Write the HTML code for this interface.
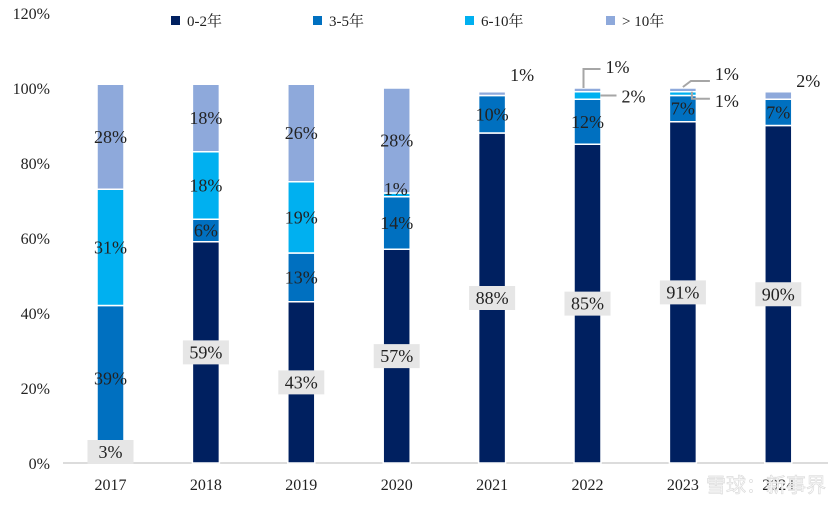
<!DOCTYPE html>
<html><head><meta charset="utf-8"><style>
body{margin:0;background:#fff;}
svg{display:block;font-family:"Liberation Serif","Noto Serif CJK SC",serif;}
</style></head><body>
<svg id="chart" width="830" height="506"></svg>
<script>
const categories=["2017","2018","2019","2020","2021","2022","2023","2024"];
const s02=[3,59,43,57,88,85,91,90];
const s35=[39,6,13,14,10,12,7,7];
const s610=[31,18,19,1,0,2,1,0];
const s10=[28,18,26,28,1,1,1,2];
const seriesNames=["0-2年","3-5年","6-10年","> 10年"];
const colors=["#002060","#0070C0","#00B0F0","#8EA9DB"];
const yTicks=[0,20,40,60,80,100,120];
const NS="http://www.w3.org/2000/svg";
const svg=document.getElementById('chart');
function y(v){return 463-v*3.75;}
function x(i){return 110.5+i*95.4;}
function el(t,a,p){const e=document.createElementNS(NS,t);for(const k in a)e.setAttribute(k,a[k]);(p||svg).appendChild(e);return e;}
yTicks.forEach(t=>{const tx=el('text',{x:50,y:y(t)+6,'text-anchor':'end','font-size':16,fill:'#222'});tx.textContent=t+'%';

});
const ax=el('line',{x1:63,x2:828,y1:463,y2:463,stroke:'#d0d0d0','stroke-width':1.5});


const lx=[171,313,465,606];
seriesNames.forEach((n,i)=>{const r=el('rect',{x:lx[i],y:16,width:9,height:9,fill:colors[i]});


const t=el('text',{x:lx[i]+16,y:26,'font-size':15,fill:'#222'});t.textContent=n;

});
const series=[s02,s35,s610,s10];
const bw=27;
categories.forEach((c,i)=>{
  let acc=0;
  series.forEach((s,k)=>{
    const v=s[i];if(v<=0)return;
    const r=el('rect',{x:x(i)-bw/2,y:y(acc+v),width:bw,height:v*3.75,fill:colors[k],stroke:'#fff','stroke-width':1.5});
    
    
    acc+=v;
  });
  const t=el('text',{x:x(i),y:490,'text-anchor':'middle','font-size':16,fill:'#222'});t.textContent=c;
  
  
});
function label(txt,cx,cy,box){
  if(box){const b=el('rect',{x:cx-23,y:cy-12,width:46,height:24,fill:'#e6e6e6'});
  
  }
  const t=el('text',{x:cx,y:cy+6,'text-anchor':'middle','font-size':18,fill:'#222'});t.textContent=txt;
  
  
}
function lead(pts){const p=el('polyline',{points:pts,fill:'none',stroke:'#a6a6a6','stroke-width':2});

}
categories.forEach((c,i)=>{
  let acc=0;
  series.forEach((s,k)=>{
    const v=s[i];const mid=acc+v/2;acc+=v;
    if(v<=0)return;
    if(k===0){label(v+'%',x(i),i===0?452:y(mid),true);return;}
    if(v>=5){label(v+'%',x(i),y(mid),false);}
  });
});
function cum(i,k){let a=0;for(let j=0;j<=k;j++)a+=series[j][i];return a;}
label(s610[3]+'%',x(3)-1,y(cum(3,2))-4,false);
label(s10[4]+'%',x(4)+30,y(cum(4,3))-17,false);
label(s10[5]+'%',x(5)+30,y(cum(5,3))-21,false);lead(`${x(5)-4},${y(cum(5,3))} ${x(5)-4},${y(cum(5,3))-19} ${x(5)+13},${y(cum(5,3))-19}`);
label(s610[5]+'%',x(5)+46,y(cum(5,2)-1)+1,false);lead(`${x(5)+13},${y(cum(5,2)-1)} ${x(5)+29},${y(cum(5,2)-1)}`);
label(s10[6]+'%',x(6)+44,y(cum(6,3))-14,false);lead(`${x(6)},${y(cum(6,3))-1} ${x(6)+8},${y(cum(6,3))-7} ${x(6)+27},${y(cum(6,3))-7}`);
label(s610[6]+'%',x(6)+44,y(cum(6,2))+9,false);lead(`${x(6)+9},${y(cum(6,2))} ${x(6)+9},${y(cum(6,2))+7} ${x(6)+27},${y(cum(6,2))+7}`);
label(s10[7]+'%',x(7)+30,y(cum(7,3))-11,false);
const w=el('text',{x:826,y:492,'text-anchor':'end','font-size':20,fill:'#fff',stroke:'#dcdcdc','stroke-width':0.7,'font-family':'"Noto Sans CJK SC",sans-serif'});w.textContent='雪球：新事界';


</script>
</body></html>
